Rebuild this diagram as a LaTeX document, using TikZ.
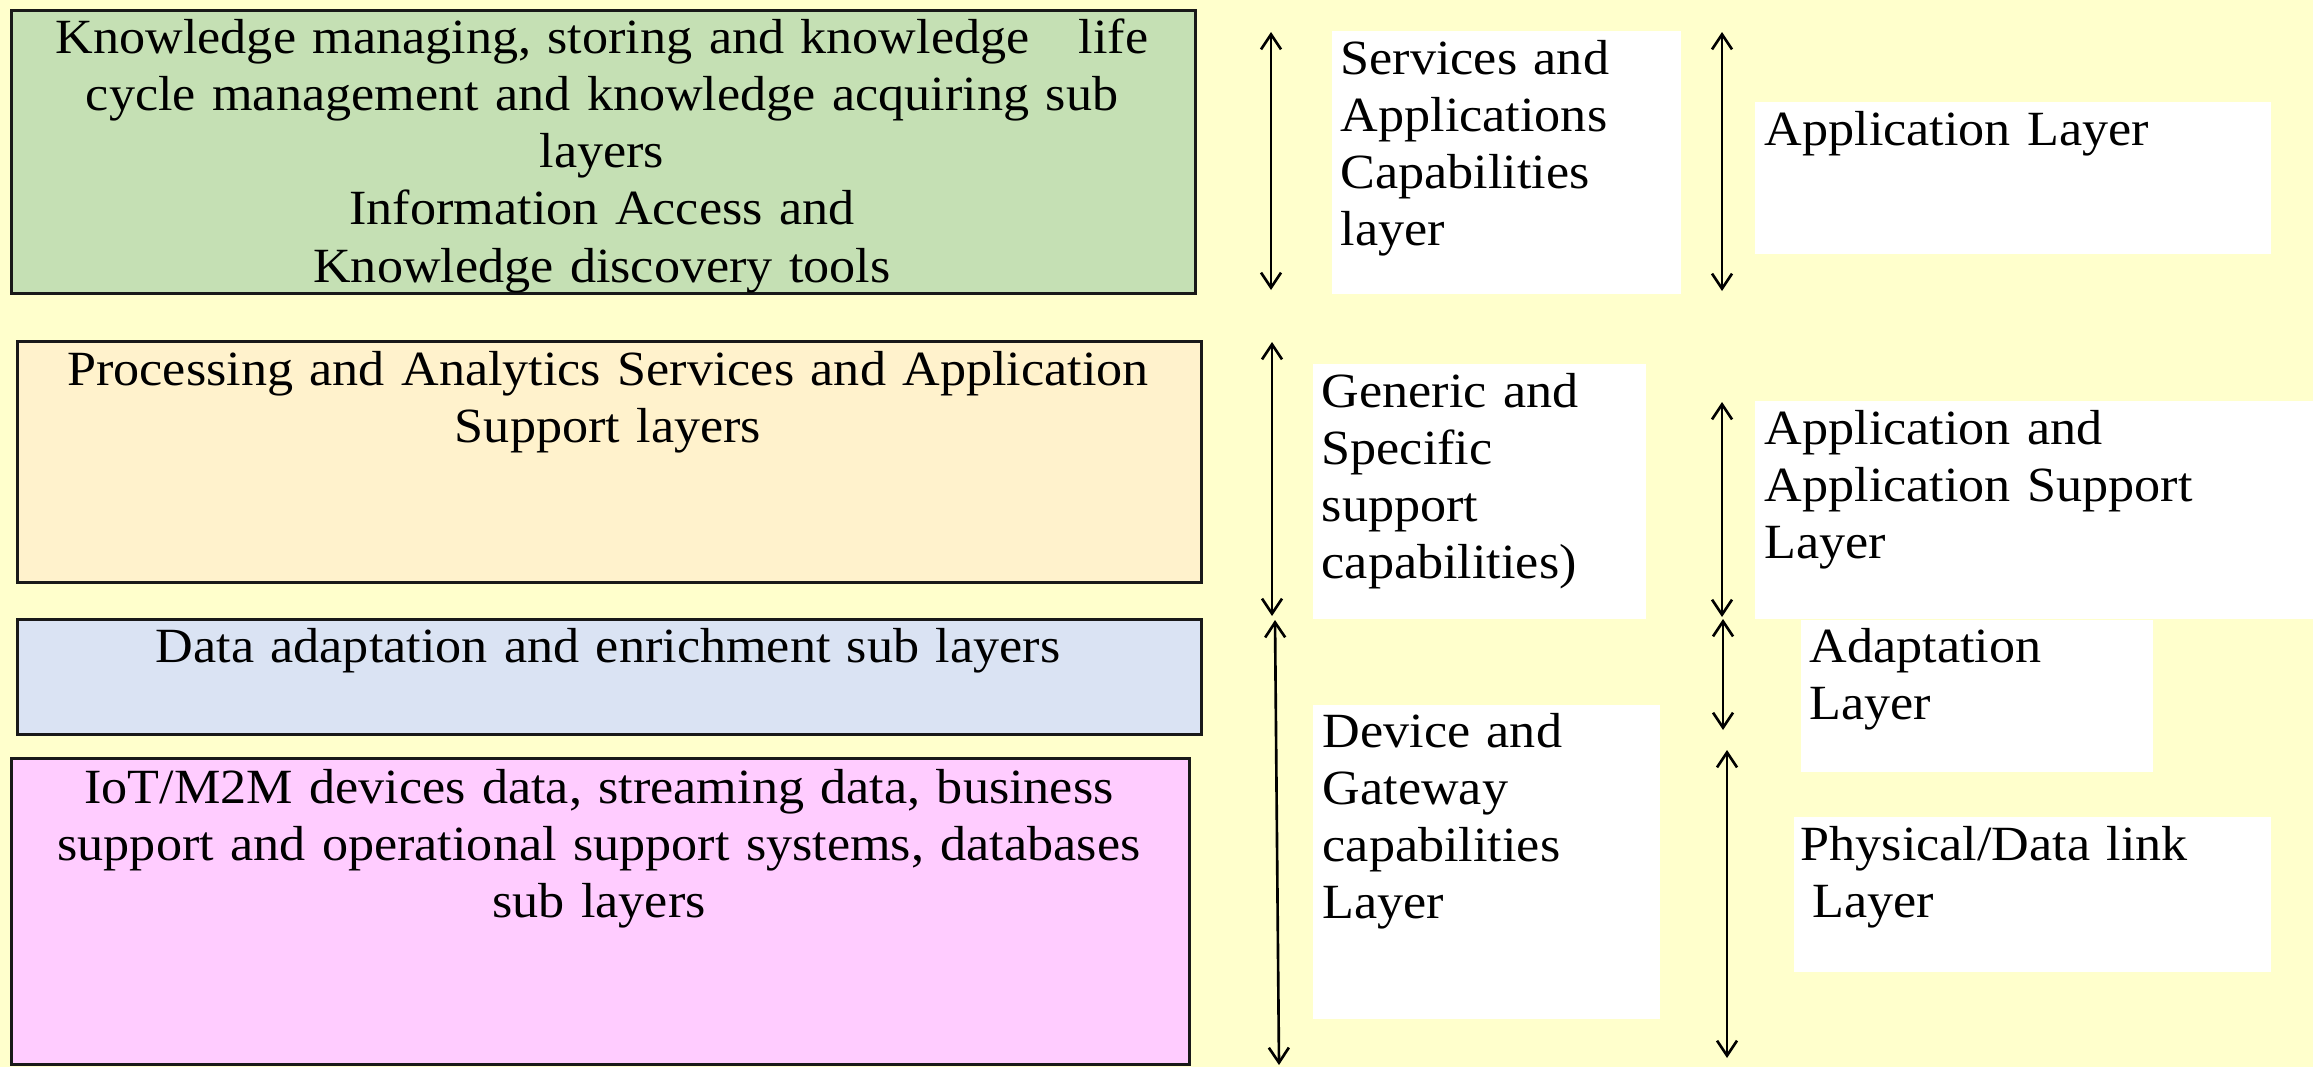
\documentclass[tikz,border=0pt]{standalone}
\usepackage{fontspec}
\setmainfont[FakeStretch=1.06]{Liberation Serif}
\usepackage{tikz}
\usetikzlibrary{arrows.meta}

\definecolor{paper}{HTML}{FFFFCC}
\definecolor{knowgreen}{HTML}{C5E0B4}
\definecolor{procbeige}{HTML}{FFF2CC}
\definecolor{adaptblue}{HTML}{DAE3F3}
\definecolor{devpink}{HTML}{FFCCFF}

\begin{document}
\begin{tikzpicture}[
  font=\fontsize{14}{16.3}\selectfont,
  layerbox/.style={draw=black!90, line width=0.85pt, inner sep=0pt, anchor=north west},
  capbox/.style={fill=white, inner sep=0pt, anchor=north west},
  centretext/.style={inner sep=0pt, anchor=base, align=center, text width=11.8cm},
  sidetext/.style={inner sep=0pt, anchor=base west, align=left, text width=5cm},
  span/.style={<->, >={Straight Barb[length=1.5mm,width=2mm]}, line width=0.75pt}
]
  % Background
  \fill[paper] (0,0) rectangle (23.13,-10.67);
  \useasboundingbox (0,0) rectangle (23.13,-10.67);

  % Left column: the sub layer stack
  \node[layerbox, fill=knowgreen, minimum width=11.84cm, minimum height=2.83cm] (know) at (0.10,-0.09) {};
  \node[layerbox, fill=procbeige, minimum width=11.84cm, minimum height=2.41cm] (proc) at (0.16,-3.40) {};
  \node[layerbox, fill=adaptblue, minimum width=11.84cm, minimum height=1.15cm] (enrich) at (0.16,-6.18) {};
  \node[layerbox, fill=devpink, minimum width=11.78cm, minimum height=3.06cm] (devdata) at (0.10,-7.57) {};

  \node[centretext] (knowtxt) at (6.02,-0.53)
    {Knowledge managing, storing and knowledge\ \ \ life\\
     cycle management and knowledge acquiring sub\\
     layers\\
     Information Access and\\
     Knowledge discovery tools};
  \node[centretext] (proctxt) at (6.08,-3.85)
    {Processing and Analytics Services and Application\\
     Support layers};
  \node[centretext] (enrichtxt) at (6.08,-6.62)
    {Data adaptation and enrichment sub layers};
  \node[centretext] (devdatatxt) at (5.99,-8.03)
    {IoT/M2M devices data, streaming data, business\\
     support and operational support systems, databases\\
     sub layers};

  % Middle column: capability layers
  \node[capbox, minimum width=3.49cm, minimum height=2.63cm] (servcap) at (13.31,-0.30) {};
  \node[capbox, minimum width=3.33cm, minimum height=2.55cm] (gencap) at (13.12,-3.63) {};
  \node[capbox, minimum width=3.47cm, minimum height=3.14cm] (devcap) at (13.12,-7.04) {};

  \node[sidetext] (servcaptxt) at (13.40,-0.74)
    {Services and\\Applications\\Capabilities\\layer};
  \node[sidetext] (gencaptxt) at (13.21,-4.07)
    {Generic and\\Specific\\support\\capabilities)};
  \node[sidetext] (devcaptxt) at (13.22,-7.47)
    {Device and\\Gateway\\capabilities\\Layer};

  % Right column: protocol layers
  \node[capbox, minimum width=5.16cm, minimum height=1.52cm] (applayer) at (17.54,-1.01) {};
  \node[capbox, minimum width=5.59cm, minimum height=2.18cm] (supplayer) at (17.54,-4.00) {};
  \node[capbox, minimum width=3.52cm, minimum height=1.52cm] (adaptlayer) at (18.00,-6.19) {};
  \node[capbox, minimum width=4.77cm, minimum height=1.55cm] (physlayer) at (17.93,-8.16) {};

  \node[sidetext] (applayertxt) at (17.64,-1.45) {Application Layer};
  \node[sidetext] (supplayertxt) at (17.64,-4.44)
    {Application and\\Application Support\\Layer};
  \node[sidetext] (adaptlayertxt) at (18.09,-6.62) {Adaptation\\Layer};
  \node[sidetext] (physlayertxt) at (18.00,-8.60)
    {Physical/Data link\\\hspace*{0.12cm}Layer};

  % Span arrows
  \coordinate (servtop) at (12.71,-0.32);
  \coordinate (servbot) at (12.71,-2.90);
  \coordinate (gentop) at (12.72,-3.42);
  \coordinate (genbot) at (12.72,-6.16);
  \coordinate (devtop) at (12.75,-6.20);
  \coordinate (devbot) at (12.79,-10.65);
  \coordinate (apptop) at (17.22,-0.32);
  \coordinate (appbot) at (17.22,-2.91);
  \coordinate (supptop) at (17.22,-4.02);
  \coordinate (suppbot) at (17.22,-6.17);
  \coordinate (adapttop) at (17.23,-6.19);
  \coordinate (adaptbot) at (17.23,-7.30);
  \coordinate (phystop) at (17.27,-7.50);
  \coordinate (physbot) at (17.27,-10.58);

  \draw[span] (servtop) -- (servbot);
  \draw[span] (gentop) -- (genbot);
  \draw[span] (devtop) -- (devbot);
  \draw[span] (apptop) -- (appbot);
  \draw[span] (supptop) -- (suppbot);
  \draw[span] (adapttop) -- (adaptbot);
  \draw[span] (phystop) -- (physbot);
\end{tikzpicture}
\end{document}
